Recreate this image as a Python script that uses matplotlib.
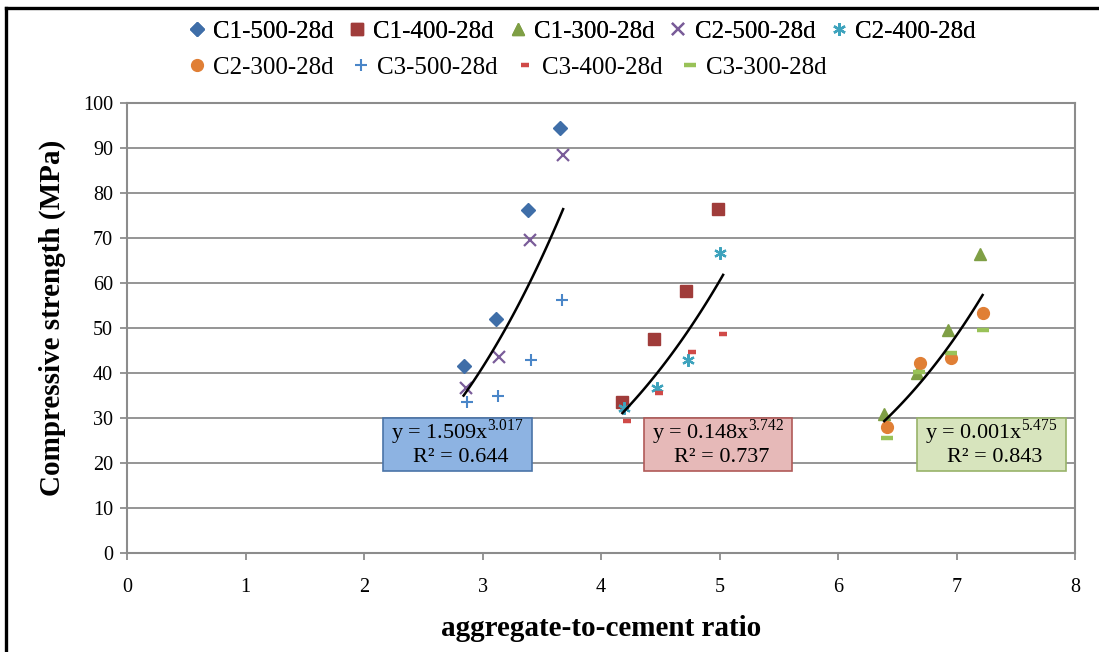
import numpy as np
import matplotlib
matplotlib.use('Agg')
import matplotlib.pyplot as plt
from matplotlib.lines import Line2D
from matplotlib.patches import Rectangle

plt.rcParams['font.family'] = ['Liberation Serif', 'DejaVu Serif']
plt.rcParams['mathtext.fontset'] = 'custom'
plt.rcParams['mathtext.rm'] = 'Liberation Serif'

# values (aggregate-to-cement ratio, strength in MPa)
c1_500_x = [2.84, 3.11, 3.38, 3.65]
c1_500_y = [41.5, 52.0, 76.2, 94.4]
c2_500_x = [2.86, 3.14, 3.40, 3.68]
c2_500_y = [36.7, 43.5, 69.5, 88.4]
c3_500_x = [2.87, 3.13, 3.41, 3.67]
c3_500_y = [33.6, 34.9, 42.9, 56.2]

c1_400_x = [4.18, 4.45, 4.72, 4.99]
c1_400_y = [33.6, 47.6, 58.2, 76.4]
c2_400_x = [4.19, 4.47, 4.73, 5.00]
c2_400_y = [32.2, 36.7, 42.9, 66.7]
c3_400_x = [4.22, 4.49, 4.77, 5.03]
c3_400_y = [29.3, 35.6, 44.6, 48.7]

c1_300_x = [6.39, 6.67, 6.93, 7.20]
c1_300_y = [30.9, 39.9, 49.6, 66.4]
c2_300_x = [6.41, 6.69, 6.95, 7.22]
c2_300_y = [28.0, 42.3, 43.3, 53.3]
c3_300_x = [6.41, 6.68, 6.95, 7.22]
c3_300_y = [25.6, 40.2, 44.4, 49.5]

fit_eq = ['y = 1.509x$^{3.017}$', 'y = 0.148x$^{3.742}$', 'y = 0.001x$^{5.475}$']
fit_r2 = ['R² = 0.644', 'R² = 0.737', 'R² = 0.843']

fig = plt.figure(figsize=(10.99, 6.52), dpi=100)
ax = fig.add_axes([0.1156, 0.1518, 0.8626, 0.6902])

star = (6, 2, 0)
series = [
    ('C1-500-28d', c1_500_x, c1_500_y, dict(marker='D', color='#3f6ea8', ms=7.5)),
    ('C1-400-28d', c1_400_x, c1_400_y, dict(marker='s', color='#a03c3a', ms=8.5)),
    ('C1-300-28d', c1_300_x, c1_300_y, dict(marker='^', color='#7f9f45', ms=9)),
    ('C2-500-28d', c2_500_x, c2_500_y, dict(marker='x', color='#7a5c99', ms=8, mew=1.6)),
    ('C2-400-28d', c2_400_x, c2_400_y, dict(marker=star, color='#3ea3bd', ms=9, mew=1.6)),
    ('C2-300-28d', c2_300_x, c2_300_y, dict(marker='o', color='#e07f35', ms=8.5)),
    ('C3-500-28d', c3_500_x, c3_500_y, dict(marker='+', color='#4a86c8', ms=8, mew=1.5)),
    ('C3-400-28d', c3_400_x, c3_400_y, dict(marker='_', color='#d04a48', ms=6, mew=3.2)),
    ('C3-300-28d', c3_300_x, c3_300_y, dict(marker='_', color='#99c258', ms=9, mew=3.2)),
]

handles = []
for name, xs, ys, st in series:
    h, = ax.plot(xs, ys, linestyle='none', label=name, zorder=3, **st)
    handles.append(h)

# power-law trendlines, one per cement group
groups = [(c1_500_x + c2_500_x + c3_500_x, c1_500_y + c2_500_y + c3_500_y),
          (c1_400_x + c2_400_x + c3_400_x, c1_400_y + c2_400_y + c3_400_y),
          (c1_300_x + c2_300_x + c3_300_x, c1_300_y + c2_300_y + c3_300_y)]
for gx, gy in groups:
    gx = np.array(gx)
    gy = np.array(gy)
    b, lna = np.polyfit(np.log(gx), np.log(gy), 1)
    xx = np.linspace(gx.min(), gx.max(), 50)
    ax.plot(xx, np.exp(lna) * xx ** b, color='black', lw=1.8, zorder=4)

# equation labels
box_cx = [2.789, 4.987, 7.295]
box_w, box_top, box_bot = 1.257, 30.0, 18.3
box_face = ['#8db3e2', '#e6b9b8', '#d7e4bd']
box_edge = ['#4a74a8', '#b05a58', '#98b36a']
for eq, r2, cx, fc, ec in zip(fit_eq, fit_r2, box_cx, box_face, box_edge):
    ax.add_patch(Rectangle((cx - box_w / 2, box_bot), box_w, box_top - box_bot,
                           fc=fc, ec=ec, lw=1.2, zorder=5))
    ax.text(cx, 26.9, eq, ha='center', va='center', fontsize=16, zorder=6)
    ax.text(cx + 0.03, 21.2, r2, ha='center', va='center', fontsize=16, zorder=6)

ax.set_xlim(0, 8)
ax.set_ylim(0, 100)
ax.set_xticks(range(0, 9))
ax.set_yticks(range(0, 101, 10))
ax.yaxis.grid(True, color='#8c8c8c', lw=1.3)
ax.set_axisbelow(True)
for sp in ax.spines.values():
    sp.set_color('#8c8c8c')
    sp.set_linewidth(1.5)
ax.tick_params(colors='#8c8c8c', labelcolor='black', labelsize=14.5,
               length=5, width=1.3, direction='out')
ax.tick_params(axis='x', pad=13)
ax.tick_params(axis='y', pad=5)

ax.set_xlabel('aggregate-to-cement ratio', fontsize=21, fontweight='bold', labelpad=13)
ax.set_ylabel('Compressive strength (MPa)', fontsize=21, fontweight='bold')
ax.yaxis.set_label_coords(-0.064, 0.522)

leg_kw = dict(loc='center left', frameon=False, fontsize=18, handlelength=0.6,
              handletextpad=0.35, borderpad=0, borderaxespad=0)
leg1 = fig.legend(handles[:5], [s[0] for s in series[:5]], ncol=5,
                  columnspacing=0.65, bbox_to_anchor=(0.172, 0.951), **leg_kw)
fig.add_artist(leg1)
fig.legend(handles[5:], [s[0] for s in series[5:]], ncol=4,
           columnspacing=0.8, bbox_to_anchor=(0.172, 0.896), **leg_kw)

# outer frame (left and top edges are visible in the original)
fig.add_artist(Line2D([0.0059, 0.0059], [0, 0.987], color='black', lw=2.4,
                      transform=fig.transFigure))
fig.add_artist(Line2D([0.0059, 1.0], [0.987, 0.987], color='black', lw=2.4,
                      transform=fig.transFigure))

fig.savefig('out.png', dpi=100)
